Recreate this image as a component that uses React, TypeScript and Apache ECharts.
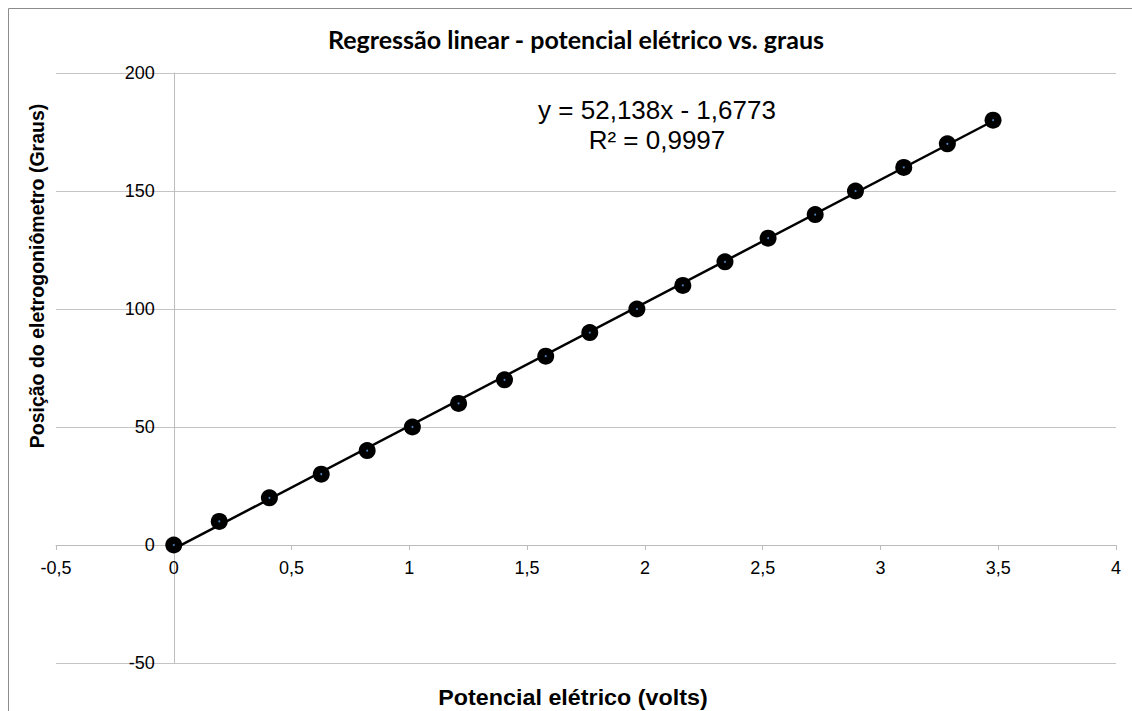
import React, { useEffect, useRef } from "react";
import * as echarts from "echarts";

const voltage = [0, 0.193, 0.406, 0.626, 0.821, 1.013, 1.209, 1.404, 1.579, 1.766, 1.966, 2.161, 2.34, 2.523, 2.723, 2.894, 3.099, 3.284, 3.478];
const degrees = [0, 10, 20, 30, 40, 50, 60, 70, 80, 90, 100, 110, 120, 130, 140, 150, 160, 170, 180];
const slope = 52.138;
const intercept = -1.6773;
const rSquared = "0,9997";

const X_MIN = -0.5;
const X_MAX = 4;
const Y_MIN = -50;
const Y_MAX = 200;

const W = 1132;
const H = 711;
const G = { left: 56, right: 16, top: 73, bottom: 48 };

const fmt = (v: number) => String(v).replace(".", ",");
const FONT = "'Liberation Sans', Arial, sans-serif";

export default function App() {
  const ref = useRef<HTMLDivElement>(null);
  useEffect(() => {
    if (!ref.current) return;
    const chart = echarts.init(ref.current, null, { renderer: "svg" });
    const pts = voltage.map((v, i) => [v, degrees[i]]);
    const xMin = Math.min(...voltage);
    const xMax = Math.max(...voltage);
    const trend = [
      [xMin, slope * xMin + intercept],
      [xMax, slope * xMax + intercept],
    ];
    const plotW = W - G.left - G.right;
    const plotH = H - G.top - G.bottom;
    // move axes so they cross at zero
    const xAxisOffset = -plotH * (0 - Y_MIN) / (Y_MAX - Y_MIN);
    const yAxisOffset = -plotW * (0 - X_MIN) / (X_MAX - X_MIN);
    chart.setOption({
      animation: false,
      backgroundColor: "#fff",
      graphic: [
        {
          type: "polyline",
          shape: { points: [[8.5, H], [8.5, 8.5], [W, 8.5]] },
          style: { stroke: "#8c8c8c", lineWidth: 1, fill: "none" },
          silent: true,
        },
        {
          type: "text",
          x: 576,
          y: 39,
          style: {
            text: "Regressão linear - potencial elétrico vs. graus",
            fontFamily: "Lato, 'Open Sans', sans-serif",
            fontWeight: "bold",
            fontSize: 25,
            align: "center",
            verticalAlign: "middle",
            fill: "#000",
          },
        },
        {
          type: "text",
          x: 657,
          y: 125,
          style: {
            text: `y = ${fmt(slope)}x - ${fmt(Math.abs(intercept))}\nR² = ${rSquared}`,
            fontFamily: FONT,
            fontSize: 26,
            lineHeight: 30,
            align: "center",
            verticalAlign: "middle",
            fill: "#000",
          },
        },
        {
          type: "text",
          x: 573,
          y: 697,
          scaleX: 1.06,
          style: {
            text: "Potencial elétrico (volts)",
            fontFamily: FONT,
            fontWeight: "bold",
            fontSize: 22,
            align: "center",
            verticalAlign: "middle",
            fill: "#000",
          },
        },
        {
          type: "text",
          x: 37,
          y: 276,
          rotation: Math.PI / 2,
          style: {
            text: "Posição do eletrogoniômetro (Graus)",
            fontFamily: FONT,
            fontWeight: "bold",
            fontSize: 19.5,
            align: "center",
            verticalAlign: "middle",
            fill: "#000",
          },
        },
      ],
      grid: {
        left: G.left,
        right: G.right,
        top: G.top,
        bottom: G.bottom,
        containLabel: false,
        outerBoundsMode: "none",
      },
      xAxis: {
        type: "value",
        min: X_MIN,
        max: X_MAX,
        interval: 0.5,
        offset: xAxisOffset,
        axisLine: { onZero: false, lineStyle: { color: "#bcbcbc", width: 1 } },
        axisTick: { show: true, length: 5, lineStyle: { color: "#bcbcbc" } },
        axisLabel: {
          formatter: fmt,
          fontFamily: FONT,
          fontSize: 18,
          color: "#000",
          margin: 14,
          showMinLabel: true,
          showMaxLabel: true,
        },
        splitLine: { show: false },
      },
      yAxis: {
        type: "value",
        min: Y_MIN,
        max: Y_MAX,
        interval: 50,
        offset: yAxisOffset,
        axisLine: { show: true, onZero: false, lineStyle: { color: "#bcbcbc", width: 1 } },
        axisTick: { show: false },
        axisLabel: {
          fontFamily: FONT,
          fontSize: 18,
          color: "#000",
          margin: 19,
          showMinLabel: true,
          showMaxLabel: true,
        },
        splitLine: { show: true, lineStyle: { color: "#c4c4c4", width: 1 } },
      },
      series: [
        {
          type: "line",
          data: trend,
          symbol: "none",
          lineStyle: { color: "#000", width: 2.5 },
          z: 2,
        },
        {
          type: "scatter",
          data: pts,
          symbol: "circle",
          symbolSize: 17,
          itemStyle: { color: "#000", opacity: 1 },
          z: 3,
        },
        {
          type: "scatter",
          data: pts,
          symbol: "circle",
          symbolSize: 2,
          itemStyle: { color: "#4f81bd", opacity: 1 },
          z: 4,
        },
      ],
    });
    return () => chart.dispose();
  }, []);
  return (
    <div
      ref={ref}
      style={{ position: "fixed", left: 0, top: 0, width: W, height: H, overflow: "hidden" }}
    />
  );
}
